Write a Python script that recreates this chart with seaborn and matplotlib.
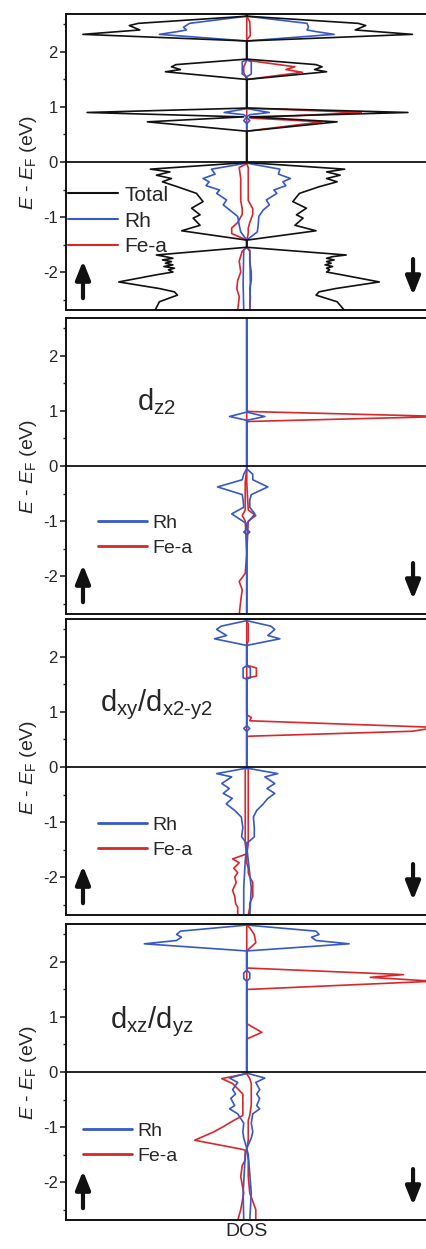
import numpy as np
import matplotlib
matplotlib.use("Agg")
import matplotlib.pyplot as plt
from matplotlib.lines import Line2D
import seaborn as sns

sns.set_style("ticks")
plt.rcParams['font.family'] = ['Liberation Sans', 'DejaVu Sans']
plt.rcParams['mathtext.fontset'] = 'custom'
plt.rcParams['mathtext.rm'] = 'Liberation Sans'
plt.rcParams['mathtext.it'] = 'Liberation Sans:italic'
plt.rcParams['axes.unicode_minus'] = False

BLACK = "#111111"
BLUE = "#3658c8"
RED = "#d8262a"

# ---- panel 1 : total / Rh / Fe-a (spin up magnitudes drawn to the left) ----
tot_E = [-2.70, -2.54, -2.42, -2.36, -2.30, -2.18, -2.05, -2.00, -1.96, -1.93, -1.90, -1.87, -1.84,
         -1.81, -1.78, -1.75, -1.72, -1.69, -1.55, -1.42, -1.25, -1.15, -1.02, -0.96, -0.84, -0.72,
         -0.57, -0.45, -0.36, -0.30, -0.24, -0.18, -0.13, -0.01, 0.56, 0.73, 0.82, 0.90, 0.98, 1.50,
         1.64, 1.68, 1.73, 1.77, 1.87, 2.20, 2.32, 2.40, 2.48, 2.52, 2.65, 2.70]
tot_up = [3.05, 2.90, 2.30, 2.40, 2.90, 4.25, 3.00, 2.45, 2.60, 2.40, 2.75, 2.45, 2.70,
          2.50, 2.80, 2.45, 2.70, 3.00, 0.00, 0.00, 2.16, 1.55, 1.78, 1.55, 1.83, 1.45,
          1.67, 2.30, 2.80, 2.50, 3.00, 2.55, 3.20, 0.00, 0.00, 3.30, 0.10, 5.30, 0.00, 0.00,
          2.70, 2.20, 2.50, 2.35, 0.00, 0.00, 5.44, 3.55, 3.90, 3.60, 0.00, 0.00]
tot_dn = [3.25, 3.00, 2.30, 2.40, 2.95, 4.40, 3.15, 2.65, 2.75, 2.65, 2.85, 2.60, 2.80,
          2.65, 2.90, 2.65, 2.85, 3.30, 0.00, 0.00, 2.30, 1.60, 1.87, 1.65, 1.98, 1.53,
          1.75, 2.40, 3.00, 2.65, 3.10, 2.65, 3.25, 0.00, 0.00, 3.00, 0.10, 5.35, 0.00, 0.00,
          2.65, 2.25, 2.50, 2.30, 0.00, 0.00, 5.50, 3.60, 3.95, 3.70, 0.00, 0.00]

rh1_E = [-2.70, -2.20, -1.60, -1.55, -1.42, -1.27, -1.15, -0.99, -0.87, -0.78, -0.69, -0.57, -0.51,
         -0.43, -0.36, -0.30, -0.22, -0.13, -0.02, 0.70, 0.75, 0.82, 0.86, 0.90, 0.97, 1.55, 1.60,
         1.82, 1.86, 2.20, 2.32, 2.37, 2.40, 2.45, 2.52, 2.65, 2.70]
rh1_up = [0.10, 0.12, 0.10, 0.00, 0.00, 0.20, 0.25, 0.30, 0.57, 0.78, 0.67, 1.00, 0.90,
          1.35, 1.25, 1.45, 1.05, 1.17, 0.00, 0.00, 0.10, 0.00, 0.10, 0.75, 0.00, 0.00, 0.15,
          0.15, 0.00, 0.00, 2.90, 2.30, 2.00, 2.10, 1.90, 0.00, 0.00]
rh1_dn = [0.10, 0.12, 0.10, 0.00, 0.00, 0.35, 0.38, 0.40, 0.55, 0.75, 0.65, 1.00, 0.90,
          1.30, 1.20, 1.45, 1.05, 1.10, 0.00, 0.00, 0.10, 0.00, 0.10, 0.75, 0.00, 0.00, 0.15,
          0.15, 0.00, 0.00, 2.90, 2.30, 2.00, 2.05, 2.00, 0.00, 0.00]

fe1_E = [-2.70, -2.45, -2.30, -2.15, -2.00, -1.80, -1.62, -1.55, -1.42, -1.30, -1.20, -1.10, -0.95,
         -0.85, -0.70, -0.50, -0.30, -0.10, -0.03, 0.56, 0.73, 0.80, 0.90, 0.98, 1.50, 1.63, 1.68,
         1.73, 1.85, 2.22, 2.30, 2.55, 2.65, 2.70]
fe1_up = [0.30, 0.25, 0.33, 0.30, 0.20, 0.25, 0.15, 0.00, 0.00, 0.50, 0.50, 0.30, 0.15,
          0.15, 0.20, 0.20, 0.20, 0.25, 0.00, 0.00, 0.00, 0.00, 0.00, 0.00, 0.00, 0.10, 0.10,
          0.10, 0.00, 0.00, 0.00, 0.00, 0.00, 0.00]
fe1_dn = [0.10, 0.12, 0.10, 0.15, 0.15, 0.10, 0.10, 0.00, 0.00, 0.05, 0.05, 0.10, 0.20,
          0.20, 0.05, 0.05, 0.05, 0.05, 0.00, 0.00, 2.50, 0.10, 3.80, 0.00, 0.00, 1.85, 1.30,
          1.60, 0.00, 0.00, 0.12, 0.10, 0.00, 0.00]

# ---- panel 2 : d_z2 ----
rh2_E = [-2.70, -1.25, -1.20, -1.15, -1.05, -0.87, -0.75, -0.62, -0.52, -0.38, -0.25, -0.15, -0.05,
         0.83, 0.90, 0.98, 2.70]
rh2_up = [0.00, 0.00, 0.10, 0.00, 0.00, 0.50, 0.10, 0.12, 0.15, 0.97, 0.15, 0.10, 0.00,
          0.00, 0.57, 0.00, 0.00]
rh2_dn = [0.00, 0.00, 0.10, 0.00, 0.00, 0.27, 0.10, 0.10, 0.15, 0.70, 0.20, 0.20, 0.00,
          0.00, 0.60, 0.00, 0.00]
fe2_E = [-2.70, -2.45, -2.25, -2.10, -1.95, -1.60, -1.00, -0.90, -0.80, -0.30, -0.05, 0.80, 0.81,
         0.90, 0.99, 1.00, 2.70]
fe2_up = [0.25, 0.20, 0.15, 0.25, 0.05, 0.00, 0.05, 0.15, 0.05, 0.05, 0.00, 0.00, 0.00,
          0.00, 0.00, 0.00, 0.00]
fe2_dn = [0.00, 0.00, 0.00, 0.00, 0.00, 0.00, 0.05, 0.30, 0.05, 0.00, 0.00, 0.00, 0.10,
          6.60, 0.10, 0.00, 0.00]

# ---- panel 3 : d_xy / d_x2-y2 ----
rh3_E = [-2.70, -2.20, -1.70, -1.45, -1.39, -1.27, -1.10, -0.91, -0.79, -0.67, -0.57, -0.48, -0.39,
         -0.30, -0.18, -0.12, -0.02, 0.65, 0.70, 0.75, 1.60, 1.62, 1.80, 1.84, 2.21, 2.33, 2.39,
         2.50, 2.56, 2.66, 2.70]
rh3_up = [0.10, 0.10, 0.05, 0.00, 0.00, 0.17, 0.13, 0.18, 0.40, 0.68, 0.48, 0.78, 0.58,
          0.83, 0.50, 1.00, 0.00, 0.00, 0.10, 0.00, 0.00, 0.12, 0.12, 0.00, 0.00, 1.07, 0.67,
          1.00, 0.85, 0.00, 0.00]
rh3_dn = [0.10, 0.15, 0.05, 0.00, 0.00, 0.25, 0.25, 0.22, 0.33, 0.55, 0.70, 0.93, 0.67,
          0.93, 0.60, 1.03, 0.00, 0.00, 0.10, 0.00, 0.00, 0.12, 0.12, 0.00, 0.00, 1.10, 0.70,
          0.93, 0.80, 0.00, 0.00]
fe3_E = [-2.70, -2.55, -2.48, -2.35, -2.24, -2.10, -2.00, -1.92, -1.84, -1.74, -1.67, -1.58, -1.40,
         -0.05, 0.00, 0.55, 0.56, 0.65, 0.72, 0.84, 0.90, 0.95, 1.62, 1.65, 1.80, 1.85, 2.20,
         2.30, 2.60, 2.65, 2.70]
fe3_up = [0.30, 0.30, 0.37, 0.40, 0.47, 0.35, 0.40, 0.30, 0.43, 0.25, 0.47, 0.00, 0.05,
          0.05, 0.00, 0.00, 0.00, 0.00, 0.00, 0.00, 0.00, 0.00, 0.00, 0.00, 0.00, 0.00, 0.00,
          0.00, 0.00, 0.00, 0.00]
fe3_dn = [0.05, 0.10, 0.10, 0.20, 0.20, 0.20, 0.10, 0.05, 0.05, 0.00, 0.00, 0.00, 0.05,
          0.05, 0.00, 0.00, 0.10, 5.50, 6.30, 0.10, 0.15, 0.00, 0.00, 0.32, 0.32, 0.00, 0.00,
          0.05, 0.05, 0.00, 0.00]

# ---- panel 4 : d_xz / d_yz ----
rh4_E = [-2.70, -2.20, -1.50, -1.39, -1.20, -1.09, -0.93, -0.76, -0.67, -0.61, -0.48, -0.40, -0.32,
         -0.19, -0.11, -0.02, 1.65, 1.70, 1.80, 1.85, 2.20, 2.33, 2.39, 2.45, 2.50, 2.56, 2.67, 2.70]
rh4_up = [0.10, 0.12, 0.05, 0.00, 0.10, 0.13, 0.10, 0.30, 0.57, 0.40, 0.53, 0.37, 0.47,
          0.30, 0.57, 0.00, 0.00, 0.10, 0.10, 0.00, 0.00, 3.40, 2.33, 2.17, 2.33, 2.20, 0.00, 0.00]
rh4_dn = [0.10, 0.15, 0.05, 0.00, 0.15, 0.20, 0.15, 0.20, 0.43, 0.33, 0.43, 0.33, 0.43,
          0.30, 0.60, 0.00, 0.00, 0.10, 0.10, 0.00, 0.00, 3.40, 2.30, 2.15, 2.40, 2.30, 0.00, 0.00]
fe4_E = [-2.70, -2.50, -2.20, -1.90, -1.70, -1.60, -1.42, -1.40, -1.24, -1.09, -1.00, -0.88, -0.79,
         -0.60, -0.40, -0.21, -0.12, -0.03, 0.60, 0.72, 0.88, 1.50, 1.65, 1.72, 1.77, 1.89, 2.20,
         2.35, 2.50, 2.62, 2.67, 2.70]
fe4_up = [0.30, 0.20, 0.10, 0.20, 0.15, 0.05, 0.05, 0.20, 1.73, 1.10, 0.80, 0.43, 0.13,
          0.13, 0.13, 0.47, 0.83, 0.00, 0.00, 0.00, 0.00, 0.00, 0.00, 0.00, 0.00, 0.00, 0.00,
          0.00, 0.00, 0.00, 0.00, 0.00]
fe4_dn = [0.30, 0.30, 0.10, 0.05, 0.05, 0.05, 0.00, 0.00, 0.05, 0.05, 0.05, 0.05, 0.10,
          0.15, 0.15, 0.15, 0.10, 0.00, 0.00, 0.50, 0.00, 0.00, 6.20, 4.10, 5.20, 0.00, 0.00,
          0.30, 0.25, 0.10, 0.00, 0.00]

orbital_labels = [None, r"$\mathregular{d_{z2}}$", r"$\mathregular{d_{xy}/d_{x2\text{-}y2}}$",
                  r"$\mathregular{d_{xz}/d_{yz}}$"]

panels = [
    [("Total", BLACK, tot_E, tot_up, tot_dn), ("Rh", BLUE, rh1_E, rh1_up, rh1_dn),
     ("Fe-a", RED, fe1_E, fe1_up, fe1_dn)],
    [("Rh", BLUE, rh2_E, rh2_up, rh2_dn), ("Fe-a", RED, fe2_E, fe2_up, fe2_dn)],
    [("Rh", BLUE, rh3_E, rh3_up, rh3_dn), ("Fe-a", RED, fe3_E, fe3_up, fe3_dn)],
    [("Rh", BLUE, rh4_E, rh4_up, rh4_dn), ("Fe-a", RED, fe4_E, fe4_up, fe4_dn)],
]

fig = plt.figure(figsize=(4.27, 12.49), dpi=100)
left, width, height = 66 / 427, 361.5 / 427, 296 / 1249
bottoms = [1 - 310 / 1249, 1 - 614 / 1249, 1 - 915 / 1249, 1 - 1220 / 1249]

label_pos = [None, (0.196, 0.716), (0.094, 0.71), (0.122, 0.669)]
legend_pos = [(0.005, 0.42), (0.089, 0.338), (0.089, 0.334), (0.047, 0.331)]
arrow_style = '-|>,head_length=0.55,head_width=0.22'

for i, series in enumerate(panels):
    ax = fig.add_axes([left, bottoms[i], width, height])
    # draw in reverse so total / Rh end up on top as in the original
    for name, col, E, up, dn in reversed(series):
        E = np.array(E)
        sns.lineplot(x=-np.array(up), y=E, sort=False, estimator=None, color=col, lw=1.2, ax=ax)
        sns.lineplot(x=np.array(dn), y=E, sort=False, estimator=None, color=col, lw=1.2, ax=ax)
    ax.axhline(0, color=BLACK, lw=1.3, zorder=5)
    ax.set_xlim(-6, 6)
    ax.set_ylim(-2.69, 2.69)
    ax.set_xticks([])
    ax.set_yticks([-2, -1, 0, 1, 2])
    ax.set_yticks([-2.5, -1.5, -0.5, 0.5, 1.5, 2.5], minor=True)
    ax.tick_params(axis='y', which='major', direction='out', length=4, width=1.2, labelsize=12, pad=2)
    ax.tick_params(axis='y', which='minor', direction='out', length=2.5, width=1.0)
    for sp in ax.spines.values():
        sp.set_linewidth(1.4)
        sp.set_color(BLACK)
    ax.set_ylabel(r"$E$ - $E_\mathrm{F}$ (eV)", fontsize=14, labelpad=3)

    handles = [Line2D([0], [0], color=c, lw=1.5 if i == 0 else 2.0) for _, c, _, _, _ in series]
    names = [s[0] for s in series]
    fs = 15 if i == 0 else 14
    ax.legend(handles, names, loc='upper left', bbox_to_anchor=legend_pos[i], frameon=False,
              fontsize=fs, handlelength=2.4 if i == 0 else 2.5, handletextpad=0.3,
              labelspacing=0.33 if i == 0 else 0.39, borderpad=0, borderaxespad=0)

    if orbital_labels[i]:
        ax.text(label_pos[i][0], label_pos[i][1], orbital_labels[i], transform=ax.transAxes,
                fontsize=21, ha='left', va='center')

    ax.annotate('', xy=(0.047, 0.166), xytext=(0.047, 0.04), xycoords='axes fraction',
                arrowprops=dict(arrowstyle=arrow_style, lw=3, color=BLACK, mutation_scale=20,
                                shrinkA=0, shrinkB=0))
    ax.annotate('', xy=(0.96, 0.05), xytext=(0.96, 0.172), xycoords='axes fraction',
                arrowprops=dict(arrowstyle=arrow_style, lw=3, color=BLACK, mutation_scale=20,
                                shrinkA=0, shrinkB=0))
    if i == 3:
        ax.set_xlabel("DOS", fontsize=14, labelpad=2)

fig.savefig("out.png", dpi=100)
